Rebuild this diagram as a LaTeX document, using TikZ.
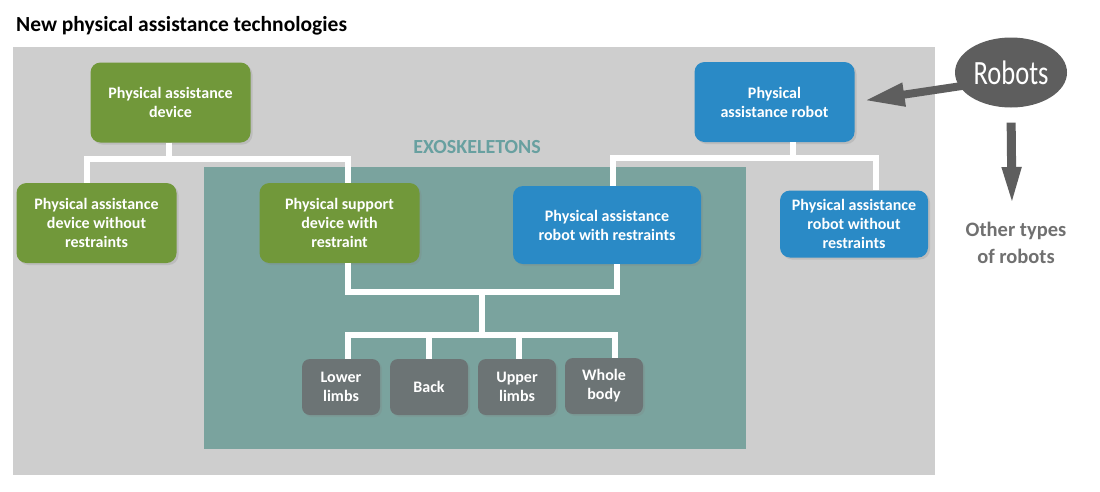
\documentclass[tikz,border=0pt]{standalone}
\usepackage{fontspec}
\setmainfont{Carlito}
\usetikzlibrary{shadows,arrows.meta,calc,shapes.geometric}
\definecolor{bggray}{RGB}{206,206,206}
\definecolor{tealbg}{RGB}{122,163,158}
\definecolor{exotext}{RGB}{104,160,160}
\definecolor{pgreen}{RGB}{113,152,58}
\definecolor{pblue}{RGB}{42,138,198}
\definecolor{pgray}{RGB}{108,116,117}
\definecolor{darkg}{RGB}{94,94,94}
\definecolor{othertext}{RGB}{112,112,112}
\begin{document}
\begin{tikzpicture}[x=1pt,y=-1pt,
  box/.style={rounded corners=10pt, text=white, align=center, inner sep=2pt,
    font=\bfseries\fontsize{16}{19}\selectfont,
    drop shadow={opacity=0.22, shadow xshift=2pt, shadow yshift=-2pt}},
  gbox/.style={box, fill=pgreen, minimum width=160pt, minimum height=80pt},
  bbox/.style={box, fill=pblue},
  limb/.style={box, fill=pgray, minimum width=78pt, minimum height=56pt, rounded corners=8pt},
  conn/.style={draw=white, line width=6pt},
  bigarrow/.style={draw=darkg, line width=8pt, -{Triangle[length=40pt,width=22pt]}},
  downarrow/.style={draw=darkg, line width=9pt, -{Triangle[length=40pt,width=17pt]}}
]
\useasboundingbox (0,0) rectangle (1100,491);
\fill[white] (0,0) rectangle (1100,491);

% title
\node[anchor=base west, inner sep=0pt, font=\bfseries\fontsize{21.5}{25}\selectfont] (title) at (16,31) {New physical assistance technologies};

% backgrounds
\fill[bggray] (13,47) rectangle (935,475);
\fill[tealbg] (204,167) rectangle (746,449);
\node[text=exotext, font=\bfseries\fontsize{20}{24}\selectfont] (exo) at (477,147) {EXOSKELETONS};

% green boxes
\node[gbox] (gtop) at (170.5,102.5) {Physical assistance\\device};
\node[gbox] (gleft) at (96.5,223) {Physical assistance\\device without\\restraints};
\node[gbox] (gmid) at (339.5,223) {Physical support\\device with\\restraint};

% blue boxes
\node[bbox, minimum width=160pt, minimum height=80pt] (btop) at (774.5,102) {Physical\\assistance robot};
\node[bbox, minimum width=188pt, minimum height=78pt] (bmid) at (607,225) {Physical assistance\\robot with restraints};
\node[bbox, minimum width=148pt, minimum height=67pt] (bright) at (854,224) {Physical assistance\\robot without\\restraints};

% limb boxes
\node[limb] (lower) at (341,387) {Lower\\limbs};
\node[limb] (back) at (429,387) {Back};
\node[limb] (upper) at (517,387) {Upper\\limbs};
\node[limb] (whole) at (604,386) {Whole\\body};

% connector junctions
\coordinate (jg) at (169,159);
\coordinate (jb) at (793,158);
\coordinate (je) at (482,292);
\coordinate (jl) at (482,335);

% green tree
\draw[conn] (gtop.south -| jg) -- (jg);
\draw[conn] ($(gleft.north)+(-9.5,0)$) |- (jg) -| ($(gmid.north)+(8.5,0)$);
% blue tree
\draw[conn] (btop.south -| jb) -- (jb);
\draw[conn] ($(bmid.north)+(6,0)$) |- (jb) -| ($(bright.north)+(21.5,0)$);
% exoskeleton tree
\draw[conn] ($(gmid.south)+(8.5,0)$) |- (je) -| ($(bmid.south)+(10,0)$);
\draw[conn] (je) -- (jl);
\draw[conn] ($(lower.north)+(6.5,0)$) |- (jl) -| ($(whole.north)+(11,0)$);
\draw[conn] (back.north) -- (back.north |- jl);
\draw[conn] ($(upper.north)+(2,0)$) -- ($(upper.north |- jl)+(2,0)$);

% robots
\node[ellipse, fill=darkg, minimum width=112pt, minimum height=70pt, inner sep=0pt] (robots) at (1011,72.5) {};
\node[text=white, inner sep=0pt] (robotstext) at (robots) {\scalebox{0.78}[1]{\fontsize{34}{34}\selectfont Robots}};
\draw[bigarrow, shorten <=-8pt, shorten >=10pt] (robots.195) -- (btop.east);

\node[text=othertext, align=center, font=\bfseries\fontsize{20.5}{27}\selectfont] (other) at (1016,243) {Other types\\of robots};
\coordinate (downtip) at (1012,207);
\draw[downarrow, shorten <=15pt] (robots.south) -- (downtip);
\end{tikzpicture}
\end{document}
